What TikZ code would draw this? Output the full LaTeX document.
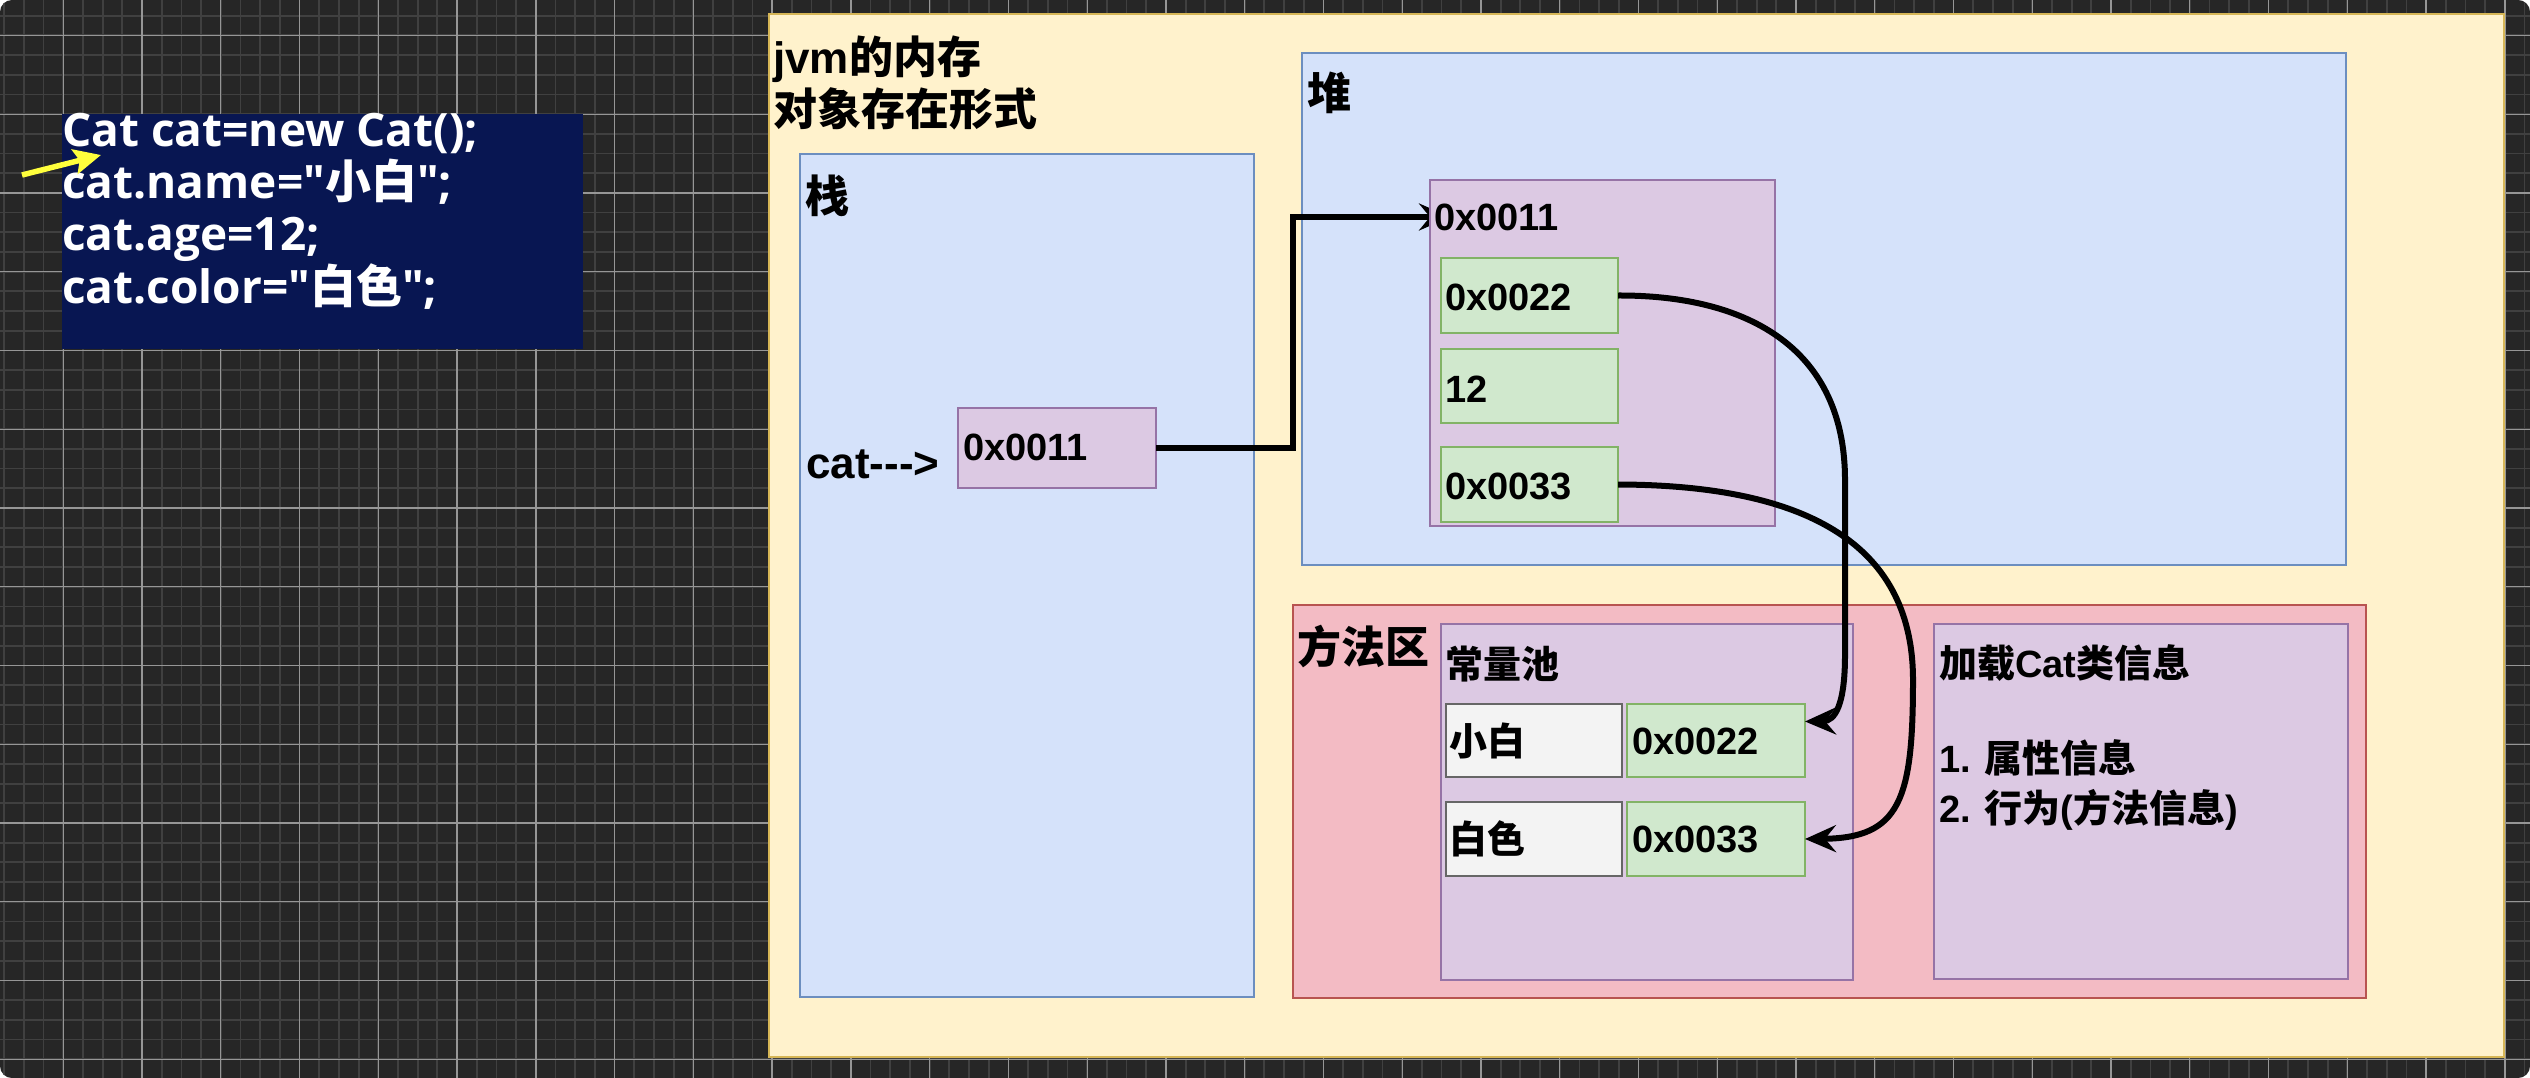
\documentclass[tikz,border=0pt]{standalone}
\usepackage{fontspec}
\usetikzlibrary{arrows.meta}
\newfontfamily\latf{Liberation Sans}
\newfontfamily\cjkf{Noto Sans CJK SC}
\newfontfamily\codef{Open Sans}
\newfontfamily\codecjk{Noto Sans CJK SC}
\definecolor{bgdark}{RGB}{38,38,38}
\definecolor{gridminor}{RGB}{64,64,64}
\definecolor{gridmajor}{RGB}{150,150,150}
\definecolor{navy}{RGB}{8,22,82}
\definecolor{yelF}{RGB}{255,242,204}
\definecolor{yelD}{RGB}{214,182,86}
\definecolor{bluF}{RGB}{213,226,250}
\definecolor{bluD}{RGB}{108,142,191}
\definecolor{purF}{RGB}{220,201,227}
\definecolor{purD}{RGB}{150,115,166}
\definecolor{grnF}{RGB}{208,232,205}
\definecolor{grnD}{RGB}{130,179,102}
\definecolor{pnkF}{RGB}{243,187,196}
\definecolor{pnkD}{RGB}{184,84,80}
\definecolor{gryF}{RGB}{243,243,243}
\definecolor{gryD}{RGB}{102,102,102}
\definecolor{annot}{RGB}{255,255,60}
\tikzset{
  box/.style={draw, line width=1.8pt, anchor=north west, inner sep=0pt, outer sep=0pt},
  yel/.style={box, fill=yelF, draw=yelD},
  blu/.style={box, fill=bluF, draw=bluD},
  pur/.style={box, fill=purF, draw=purD},
  grn/.style={box, fill=grnF, draw=grnD},
  pnk/.style={box, fill=pnkF, draw=pnkD},
  gry/.style={box, fill=gryF, draw=gryD},
  codebox/.style={anchor=north west, fill=navy, inner sep=0pt, outer sep=0pt},
  lbig/.style={font=\latf\bfseries\fontsize{44}{52}\selectfont, inner sep=0pt, anchor=base west, text=black},
  lsm/.style={font=\latf\bfseries\fontsize{38}{46}\selectfont, inner sep=0pt, anchor=base west, text=black},
  codetxt/.style={font=\codef\bfseries\fontsize{46}{52}\selectfont, inner sep=0pt, anchor=base west, text=white},
  blk/.style={draw=black, line width=6pt, -{Stealth[length=31pt,width=27pt,inset=11pt]}},
  yarrow/.style={draw=annot, line width=5.5pt, -{Stealth[length=27pt,width=25pt,inset=5pt]}},
  minorgrid/.style={draw=gridminor, line width=1.8pt},
  majorgrid/.style={draw=gridmajor, line width=1.3pt}
}
\begin{document}
\begin{tikzpicture}[x=1pt,y=-1pt]
\useasboundingbox (0,0) rectangle (2530,1078);
\fill[white] (0,0) rectangle (2530,1078);
\begin{scope}
\clip[rounded corners=12pt] (0,0) rectangle (2530,1078);
\fill[bgdark] (0,0) rectangle (2530,1078);
\foreach \i in {0,...,128} \draw[minorgrid] ({4.2+19.69*\i},0) -- ({4.2+19.69*\i},1078);
\foreach \j in {0,...,54} \draw[minorgrid] (0,{15.7+19.69*\j}) -- (2530,{15.7+19.69*\j});
\foreach \i in {0,...,31} \draw[majorgrid] ({63.3+78.76*\i},0) -- ({63.3+78.76*\i},1078);
\foreach \j in {0,...,13} \draw[majorgrid] (0,{35.4+78.76*\j}) -- (2530,{35.4+78.76*\j});
\end{scope}

% code box
\node[codebox, minimum width=521, minimum height=235] (code) at (62,114) {};
\node[codetxt] (c1) at (62,147) {Cat cat=new Cat();};
\node[codetxt] (c2) at (62,199) {cat.name="{\codecjk\bfseries 小白}";};
\node[codetxt] (c3) at (62,251) {cat.age=12;};
\node[codetxt] (c4) at (62,303) {cat.color="{\codecjk\bfseries 白色}";};
\coordinate (ya) at (22,175);
\coordinate (yb) at (101,155);
\draw[yarrow] (ya) -- (yb);

% jvm memory
\node[yel, minimum width=1735, minimum height=1043] (jvm) at (769,14) {};
\node[lbig] (title1) at (773,74) {jvm{\cjkf 的内存}};
\node[lbig] (title2) at (773,126) {\cjkf 对象存在形式};

% stack
\node[blu, minimum width=454, minimum height=843] (stack) at (800,154) {};
\node[lbig] (stacklbl) at (805,213) {\cjkf 栈};
\node[lbig] (catlbl) at (806,478) {cat--->};
\node[pur, minimum width=198, minimum height=80] (sref) at (958,408) {};
\node[lsm] (sreftxt) at (963,460) {0x0011};

% heap
\node[blu, minimum width=1044, minimum height=512] (heap) at (1302,53) {};
\node[lbig] (heaplbl) at (1307,110) {\cjkf 堆};
\coordinate (objin) at (1450,217);
\draw[blk] (sref.east) -- (1293,448) |- (objin);
\node[pur, minimum width=345, minimum height=346] (obj) at (1430,180) {};
\node[lsm] (objlbl) at (1434,230) {0x0011};
\node[grn, minimum width=177, minimum height=75] (h1) at (1441,258) {};
\node[lsm] (h1t) at (1445,310) {0x0022};
\node[grn, minimum width=177, minimum height=74] (h2) at (1441,349) {};
\node[lsm] (h2t) at (1445,402) {12};
\node[grn, minimum width=177, minimum height=75] (h3) at (1441,447) {};
\node[lsm] (h3t) at (1445,499) {0x0033};

% method area
\node[pnk, minimum width=1073, minimum height=393] (meth) at (1293,605) {};
\node[lbig] (methlbl) at (1297,663) {\cjkf 方法区};
\node[pur, minimum width=412, minimum height=356] (pool) at (1441,624) {};
\node[lsm] (poollbl) at (1445,678) {\cjkf 常量池};
\node[gry, minimum width=176, minimum height=73] (k1) at (1446,704) {};
\node[lsm] (k1t) at (1449,755) {\cjkf 小白};
\node[grn, minimum width=178, minimum height=73] (v1) at (1627,704) {};
\node[lsm] (v1t) at (1632,754) {0x0022};
\node[gry, minimum width=176, minimum height=74] (k2) at (1446,802) {};
\node[lsm] (k2t) at (1449,853) {\cjkf 白色};
\node[grn, minimum width=178, minimum height=74] (v2) at (1627,802) {};
\node[lsm] (v2t) at (1632,852) {0x0033};
\node[pur, minimum width=414, minimum height=355] (cls) at (1934,624) {};
\node[lsm] (cls1) at (1939,677) {{\cjkf 加载}Cat{\cjkf 类信息}};
\node[lsm] (cls2) at (1939,772) {1. {\cjkf 属性信息}};
\node[lsm] (cls3) at (1939,822) {2. {\cjkf 行为}({\cjkf 方法信息})};

% references
\draw[blk] (h1.east) .. controls (1750,295) and (1845,350) .. (1845,480) -- (1845,655) .. controls (1845,705) and (1835,721) .. ([yshift=19pt]v1.east);
\draw[blk] (h3.east) .. controls (1800,485) and (1913,540) .. (1913,680) .. controls (1913,800) and (1900,838) .. (v2.east);
\end{tikzpicture}
\end{document}
